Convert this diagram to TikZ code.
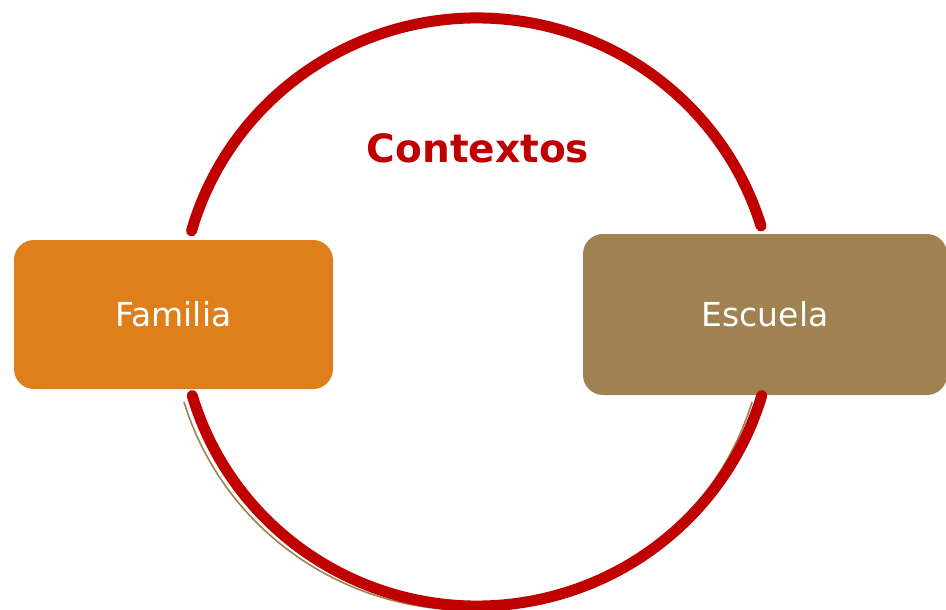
\documentclass[tikz,border=0pt]{standalone}
\usepackage{fontspec}
\setmainfont{DejaVu Sans}
\definecolor{ringred}{RGB}{192,0,0}
\definecolor{famorange}{RGB}{222,127,27}
\definecolor{escbrown}{RGB}{160,130,80}
\begin{document}
\begin{tikzpicture}[x=1pt,y=1pt,
  ctxbox/.style={rounded corners=20pt, inner sep=0pt, text=white,
     font=\fontsize{33}{40}\selectfont},
  ring/.style={draw=ringred, line width=11pt, line cap=round},
  shadowring/.style={draw=escbrown, line width=1.6pt}]
\useasboundingbox (0,0) rectangle (946,-610);
\clip (0,0) rectangle (946,-610);
\coordinate (c) at (477,-312);
\coordinate (cs) at (468,-316);
% boxes
\node[ctxbox, fill=famorange, minimum width=319pt, minimum height=149pt] (familia) at (173.5,-314.5) {Familia};
\node[ctxbox, fill=escbrown, minimum width=364pt, minimum height=161pt] (escuela) at (765,-314.5) {Escuela};
% thin brown arc behind the lower red arc
\draw[shadowring] (cs) ++(197:297 and 294) arc[start angle=197, end angle=343, x radius=297, y radius=294];
% red ring arcs
\draw[ring] (c) ++(164:297 and 294) arc[start angle=164, end angle=17, x radius=297, y radius=294];
\draw[ring] (c) ++(196.5:297 and 294) arc[start angle=196.5, end angle=343.5, x radius=297, y radius=294];
% title
\node[text=ringred, font=\fontsize{39}{47}\selectfont\bfseries] (contextos) at (478,-148) {Contextos};
\end{tikzpicture}
\end{document}
